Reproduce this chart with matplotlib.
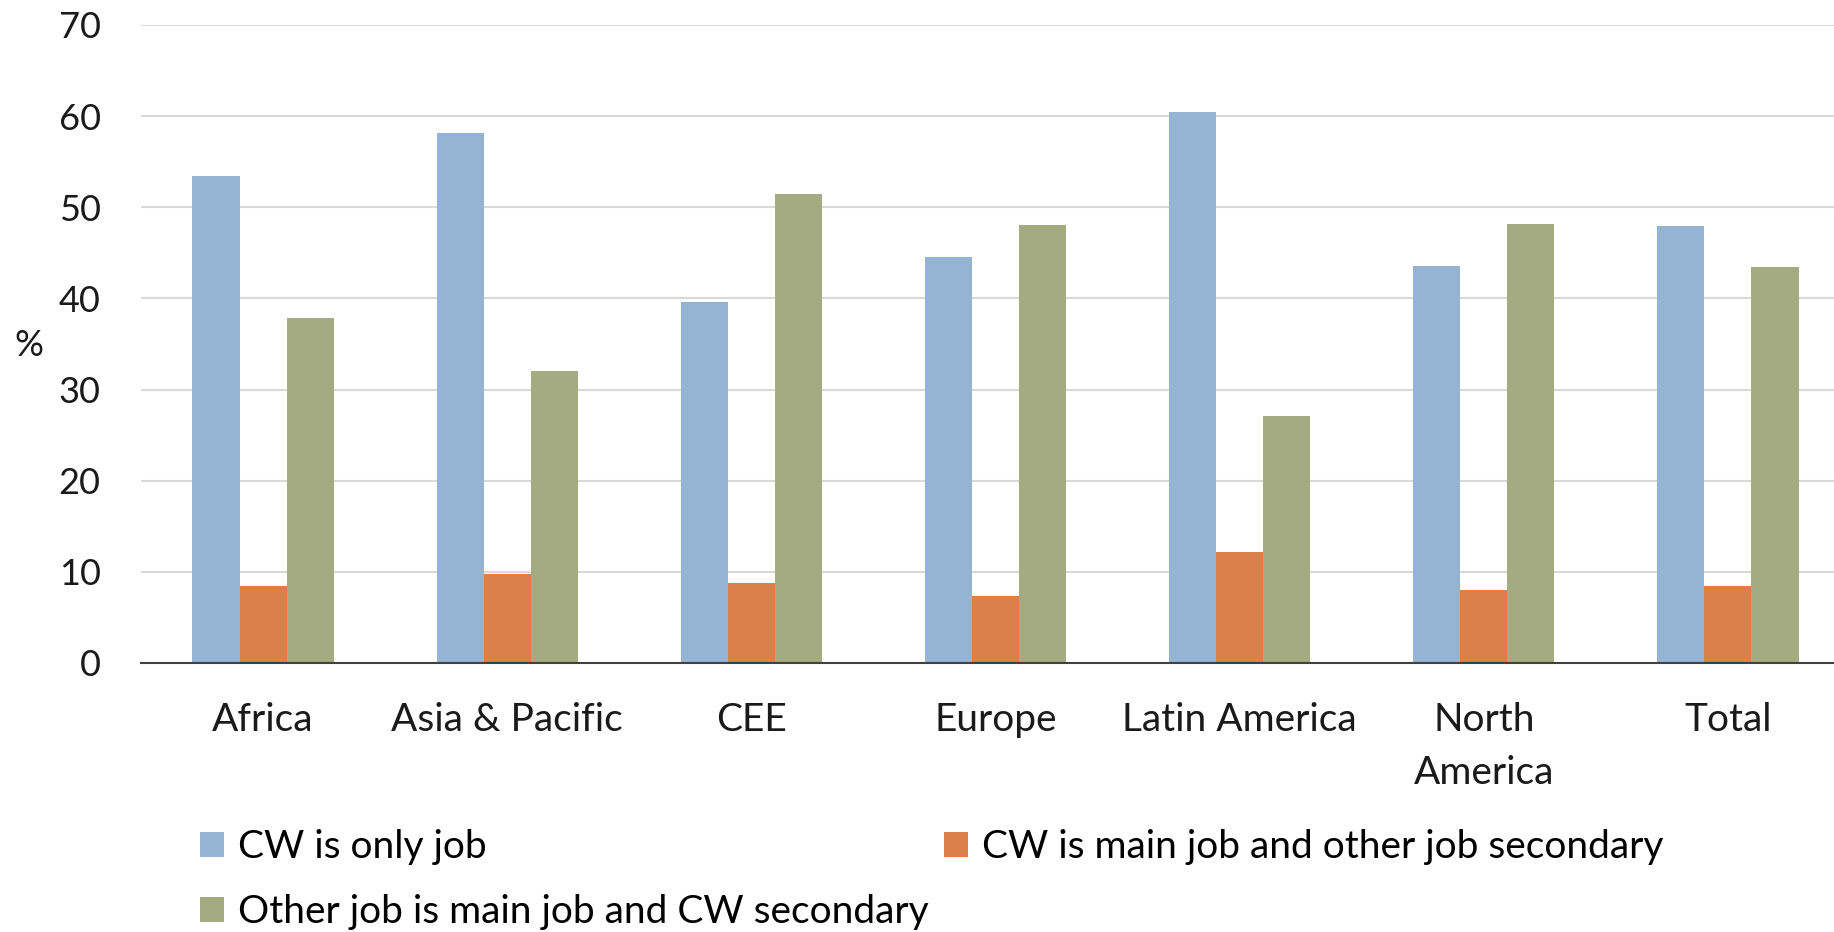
import numpy as np
import matplotlib.pyplot as plt

plt.rcParams['font.family'] = ['Lato', 'DejaVu Sans']

regions = ['Africa', 'Asia & Pacific', 'CEE', 'Europe', 'Latin America', 'North\nAmerica', 'Total']
only_job = [53.4, 58.1, 39.6, 44.5, 60.5, 43.6, 48.0]
main_job = [8.5, 9.8, 8.8, 7.35, 12.2, 8.0, 8.5]
other_main = [37.8, 32.0, 51.5, 48.1, 27.1, 48.2, 43.4]
series_names = ['CW is only job', 'CW is main job and other job secondary',
                'Other job is main job and CW secondary']
colors = ['#95b4d4', '#dd7f49', '#a5ab80']

fig = plt.figure(figsize=(18.34, 9.32), dpi=100)
ax = fig.add_axes([141 / 1834, 269 / 932, 1709 / 1834, 638 / 932])

x = np.arange(len(regions))
w = 0.193
bars = []
for i, (vals, name, c) in enumerate(zip([only_job, main_job, other_main], series_names, colors)):
    b = ax.bar(x + (i - 1) * w, vals, w, color=c, label=name, zorder=3)
    bars.append(b)

ax.set_xlim(-0.5, 6.5)
ax.set_ylim(0, 70)
ax.set_yticks(range(0, 71, 10))
ax.grid(axis='y', color='#d9d9d9', linewidth=1.5, zorder=0)
for s in ['top', 'right', 'left']:
    ax.spines[s].set_visible(False)
ax.spines['bottom'].set_color('#404040')
ax.spines['bottom'].set_linewidth(1.5)
ax.spines['bottom'].set_zorder(4)
ax.set_xticks(x)
ax.set_xticklabels(regions, linespacing=1.6)
ax.tick_params(axis='both', length=0, colors='#1a1a1a')
ax.tick_params(axis='y', pad=29, labelsize=26)
ax.tick_params(axis='x', pad=28, labelsize=28)

fig.text(29 / 1834, 1 - 345 / 932, '%', fontsize=26, ha='center', va='center', color='#1a1a1a')

# row-wise order: only / main on first row, other on second
order = [0, 2, 1]
fig.legend(handles=[bars[i] for i in order], labels=[series_names[i] for i in order],
           ncol=2, loc='upper left', bbox_to_anchor=(200 / 1834, 1 - 829 / 932),
           frameon=False, fontsize=28, handlelength=0.62, handleheight=0.62,
           handletextpad=0.35, columnspacing=0.4, labelspacing=0.75,
           borderaxespad=0, borderpad=0)

fig.savefig('out.png', dpi=100)
